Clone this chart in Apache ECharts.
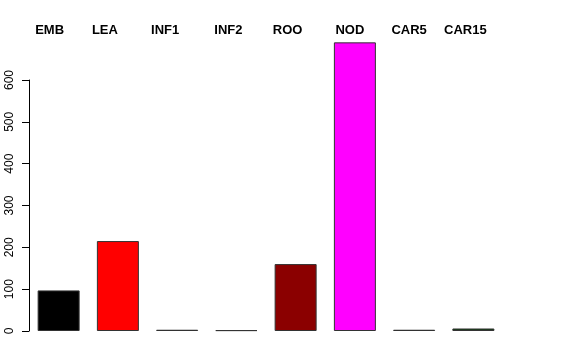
<!DOCTYPE html>
<html>
<head>
<meta charset="utf-8">
<script src="https://cdn.jsdelivr.net/npm/echarts@6/dist/echarts.min.js"></script>
<style>
html,body{margin:0;padding:0;background:#fff;}
#chart{width:576px;height:360px;}
</style>
</head>
<body>
<div id="chart"></div>
<script>
const categories = ['EMB', 'LEA', 'INF1', 'INF2', 'ROO', 'NOD', 'CAR5', 'CAR15'];
const values = [97, 215, 3, 2, 160, 690, 3, 6];
const yTicks = [0, 100, 200, 300, 400, 500, 600];

const barColors = ['#000000', '#ff0000', '#2f4f2f', '#34344e', '#8b0000', '#ff00ff', '#111111', '#0f3f0f'];
const labelShift = [9, 13, 12, 8, 8, 5, 5, 8];

const chart = echarts.init(document.getElementById('chart'));
chart.setOption({
  animation: false,
  backgroundColor: '#ffffff',
  grid: { left: 29, right: 73, top: 80, bottom: 29 },
  xAxis: {
    type: 'category',
    position: 'top',
    data: categories.map((c, i) => ({
      value: c,
      textStyle: { padding: [0, labelShift[i] * 2, 0, 0] }
    })),
    axisLine: { show: false },
    axisTick: { show: false },
    splitLine: { show: false },
    axisLabel: {
      interval: 0,
      margin: 43,
      color: '#000',
      fontWeight: 'bold',
      fontSize: 13,
      fontFamily: 'Liberation Sans, Arial, sans-serif'
    }
  },
  yAxis: {
    type: 'value',
    min: 0,
    max: 600,
    interval: 100,
    axisLine: { show: true, lineStyle: { color: '#000', width: 1 } },
    axisTick: { show: true, length: 7, lineStyle: { color: '#000' } },
    splitLine: { show: false },
    axisLabel: {
      rotate: 90,
      margin: 13,
      color: '#000',
      fontSize: 12,
      fontFamily: 'Liberation Sans, Arial, sans-serif',
      formatter: v => yTicks.includes(v) ? String(v) : ''
    }
  },
  series: [{
    type: 'bar',
    clip: false,
    barWidth: 42,
    data: values.map((v, i) => ({
      value: v,
      itemStyle: { color: barColors[i], borderColor: '#333', borderWidth: 1 }
    }))
  }]
});
</script>
</body>
</html>
